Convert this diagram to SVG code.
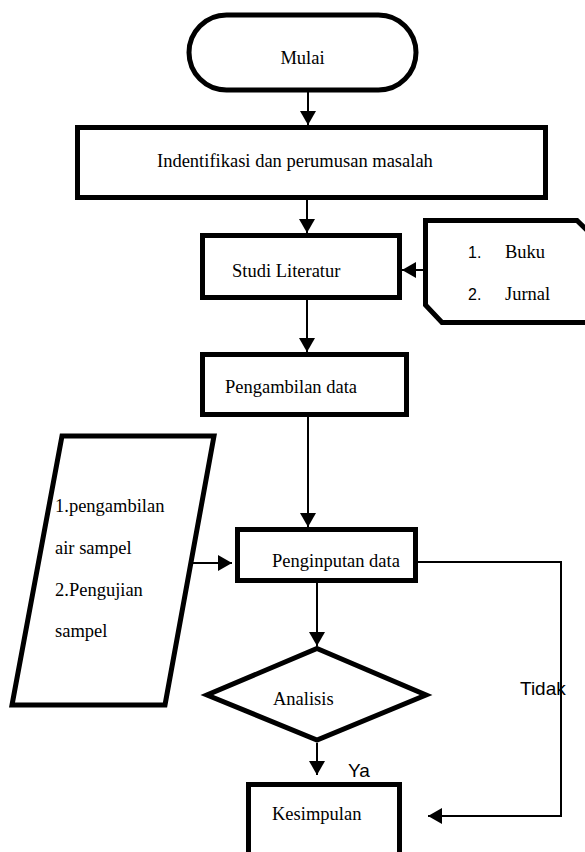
<svg xmlns="http://www.w3.org/2000/svg" width="585" height="852" viewBox="0 0 585 852">
<style>
.shape{fill:#fff;stroke:#000;stroke-width:5;stroke-linejoin:miter}
.t{font-family:"Liberation Serif","Times New Roman",serif;font-size:18.5px;fill:#000}
.s{font-family:"Liberation Sans",Arial,sans-serif;fill:#000}
.c{fill:none;stroke:#000;stroke-width:2}
</style>
<defs>
<marker id="ah" markerUnits="userSpaceOnUse" markerWidth="15" markerHeight="16" refX="14" refY="8" orient="auto">
<path d="M0,0 L14,8 L0,16 z" fill="#000"/>
</marker>
</defs>
<rect width="585" height="852" fill="#fff"/>
<g id="connectors">
<line class="c" x1="308" y1="92" x2="308" y2="125" marker-end="url(#ah)"/>
<line class="c" x1="307" y1="200" x2="307" y2="233" marker-end="url(#ah)"/>
<line class="c" x1="424" y1="270" x2="402" y2="270" marker-end="url(#ah)"/>
<line class="c" x1="307" y1="300" x2="307" y2="352" marker-end="url(#ah)"/>
<line class="c" x1="308" y1="417" x2="308" y2="527" marker-end="url(#ah)"/>
<line class="c" x1="188" y1="563" x2="232" y2="563" marker-end="url(#ah)"/>
<line class="c" x1="317" y1="583" x2="317" y2="646" marker-end="url(#ah)"/>
<line class="c" x1="317" y1="743" x2="317" y2="775" marker-end="url(#ah)"/>
<polyline class="c" points="418,562 561,562 561,816 428,816" marker-end="url(#ah)"/>
</g>
<g id="mulai">
<rect x="189" y="15" width="227" height="75" rx="37.5" ry="37.5" class="shape" stroke-width="4"/>
<text class="t" x="302.5" y="64" text-anchor="middle">Mulai</text>
</g>
<g id="identifikasi">
<rect x="77.5" y="127.5" width="468" height="70" class="shape"/>
<text class="t" x="157" y="167">Indentifikasi dan perumusan masalah</text>
</g>
<g id="studi">
<rect x="202.5" y="235.5" width="197" height="62" class="shape"/>
<text class="t" x="232" y="277">Studi Literatur</text>
</g>
<g id="referensi">
<polygon points="425.5,220.5 577,220.5 597,240 597,322.5 442,322.5 425.5,305" class="shape"/>
<text class="s" font-size="16" x="468" y="258">1.</text>
<text class="t" x="505" y="258">Buku</text>
<text class="s" font-size="16" x="468" y="300">2.</text>
<text class="t" x="505" y="300">Jurnal</text>
</g>
<g id="pengambilan">
<rect x="202.5" y="354.5" width="204" height="60" class="shape"/>
<text class="t" x="225" y="393">Pengambilan data</text>
</g>
<g id="input-data">
<polygon points="62,436 214,436 165,705 12,705" class="shape" stroke-width="5.5"/>
<text class="t" x="55" y="512">1.pengambilan</text>
<text class="t" x="55" y="554">air sampel</text>
<text class="t" x="55" y="596">2.Pengujian</text>
<text class="t" x="55" y="637">sampel</text>
</g>
<g id="penginputan">
<rect x="237.5" y="529.5" width="178" height="51" class="shape"/>
<text class="t" font-size="16" x="272" y="567">Penginputan data</text>
</g>
<g id="analisis">
<polygon points="317,648.5 426,695 317,740 207,695" class="shape" stroke-width="6"/>
<text class="t" x="273" y="705">Analisis</text>
</g>
<g id="kesimpulan">
<rect x="248.5" y="784.5" width="151" height="90" class="shape"/>
<text class="t" x="272" y="820">Kesimpulan</text>
</g>
<g id="labels">
<text class="s" font-size="19" x="348" y="777">Ya</text>
<text class="s" font-size="19" x="520" y="695">Tidak</text>
</g>
</svg>
